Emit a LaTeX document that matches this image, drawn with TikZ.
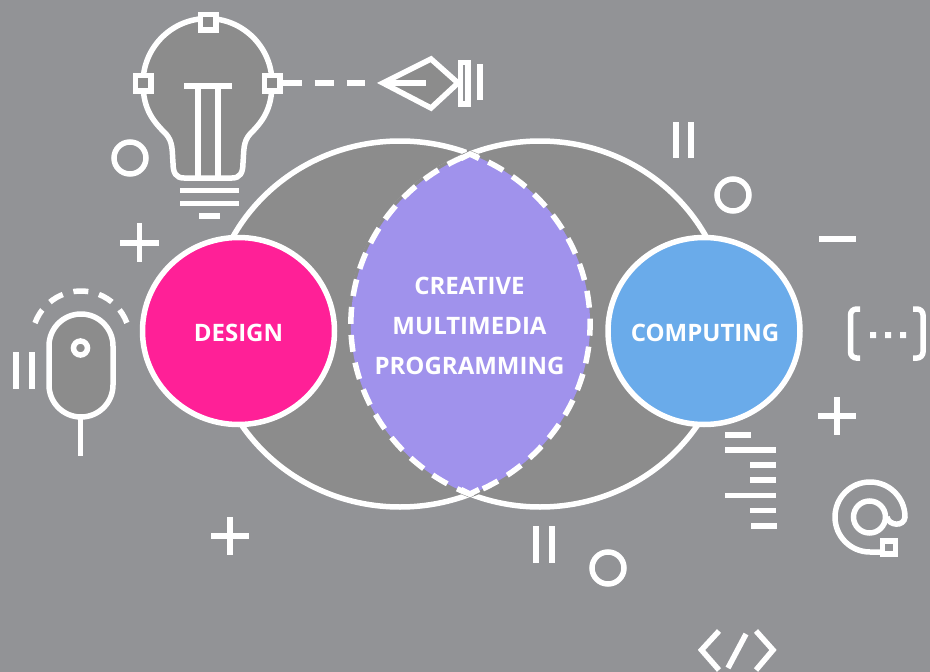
\documentclass[tikz,border=0pt]{standalone}
\usepackage{fontspec}
\usetikzlibrary{shapes.geometric}
\setmainfont{Open Sans}
\definecolor{bg}{HTML}{929396}
\definecolor{graybody}{HTML}{8C8C8C}
\definecolor{lens}{HTML}{A092EC}
\definecolor{pinkc}{HTML}{FF2097}
\definecolor{bluec}{HTML}{6AABEA}
\tikzset{
 ln/.style={draw=white,line width=5.5pt},
 hollow/.style={circle,draw=white,line width=5.5pt,inner sep=0pt,minimum size=#1},
 handle/.style={rectangle,draw=white,fill=graybody,line width=5.5pt,inner sep=0pt,minimum size=15.5pt},
 main/.style={ellipse,draw=white,line width=5.5pt,inner sep=0pt,minimum width=192pt,minimum height=187pt},
 lab/.style={text=white,font=\bfseries\fontsize{24pt}{26pt}\selectfont,inner sep=0pt}
}
\newcommand{\lenspath}{(470,154) arc [start angle=-68.4,end angle=68.4,x radius=190,y radius=183]
  arc [start angle=111.7,end angle=248.3,x radius=189,y radius=183] -- cycle}
\begin{document}
\begin{tikzpicture}[x=1pt,y=1pt,yscale=-1]
\useasboundingbox (0,0) rectangle (930,672);
\fill[bg] (0,0) rectangle (930,672);

% big ellipses
\filldraw[ln,fill=graybody] (400,324) ellipse [x radius=190,y radius=183];
\filldraw[ln,fill=graybody] (540,324) ellipse [x radius=189,y radius=183];
% lens
\path[draw=graybody,line width=6.5pt] \lenspath;
\path[fill=lens] \lenspath;
\path[draw=white,line width=5.5pt,dash pattern=on 17pt off 11pt,dash phase=8pt] \lenspath;
\draw[ln] (461,158.5) -- (470,154) -- (479,158.5);
\draw[ln] (461,489.5) -- (470,494) -- (479,489.5);
\node[lab] (t1) at (469.5,286) {CREATIVE};
\node[lab] (t2) at (469.5,326) {MULTIMEDIA};
\node[lab] (t3) at (469.5,366) {PROGRAMMING};

% main circles
\node[main,fill=pinkc] (design) at (238.5,331) {};
\node[main,fill=bluec] (computing) at (704,331) {};
\node[lab] (designlabel) at (238.5,332.5) {DESIGN};
\node[lab] (computinglabel) at (705,332.5) {COMPUTING};

% bulb
\filldraw[ln,fill=graybody] (143,83)
  arc [start angle=180,end angle=360,radius=64.5]
  .. controls (272,110) and (262,122) .. (250,134)
  .. controls (243,142) and (244,150) .. (243,163)
  .. controls (243,173) and (240,178) .. (232,178)
  -- (184,178) .. controls (176,178) and (173,173) .. (173,163)
  .. controls (172,150) and (173,142) .. (166,134)
  .. controls (154,122) and (143,110) .. (143,83) -- cycle;
\draw[ln] (184,86) -- (232,86);
\draw[ln] (198,86) -- (198,178);
\draw[ln] (218,86) -- (218,178);
\draw[ln] (180,190.5) -- (239,190.5);
\draw[ln] (180,203.5) -- (239,203.5);
\draw[ln] (199,216) -- (220,216);
\node[handle] (bulbT) at (208,22) {};
\node[handle] (bulbL) at (143,83) {};
\node[handle] (bulbR) at (272,83) {};
\node[hollow=32pt] (c1) at (130,158) {};

% pen
\coordinate (dashend) at (365,83);
\draw[ln,dash pattern=on 19pt off 13pt] (bulbR) -- (dashend);
\filldraw[ln,fill=graybody,line join=miter] (383,83) -- (431,59) -- (458,83) -- (431,108) -- cycle;
\draw[ln] (383,83) -- (426,83);
\draw[ln,fill=bg] (460.3,62.5) rectangle (468.2,104);
\draw[ln] (480,64) -- (480,100);

% plus signs and bars
\draw[ln] (120,243) -- (159,243) (139.5,223) -- (139.5,262);
\draw[ln] (211,536) -- (249,536) (230,517) -- (230,555);
\draw[ln] (818,416) -- (856,416) (837,397) -- (837,435);
\draw[ln] (819,239) -- (856,239);
\draw[ln] (676,122) -- (676,158) (691,122) -- (691,158);
\draw[ln] (536,526) -- (536,563) (552,526) -- (552,563);
\draw[ln] (16,352) -- (16,389) (32,352) -- (32,389);

% small circles
\node[hollow=32pt] (c2) at (733,195) {};
\node[hollow=32pt] (c3) at (608,568) {};

% mouse
\draw[ln,fill=graybody] (49,346) arc [start angle=180,end angle=360,radius=32]
  -- (113,385) arc [start angle=0,end angle=180,radius=32] -- cycle;
\node[hollow=14pt] (mdot) at (80.5,348) {};
\draw[ln] (80.5,418) -- (80.5,456);
\draw[ln,dash pattern=on 15pt off 11pt] (35,323) arc [start angle=200.3,end angle=339.7,radius=49];

% brackets
\draw[ln,rounded corners=6pt] (860,309) -- (850.5,309) -- (850.5,358) -- (860,358);
\draw[ln,rounded corners=6pt] (913,309) -- (923,309) -- (923,358) -- (913,358);
\fill[white] (870,332) rectangle (876,338) (885,332) rectangle (891,338) (900,332) rectangle (906,338);

% list lines
\draw[ln] (725,435) -- (751,435);
\draw[ln] (725,450) -- (776,450);
\draw[ln] (750,465) -- (776,465);
\draw[ln] (750,480) -- (776,480);
\draw[ln] (725,495.5) -- (776,495.5);
\draw[ln] (750,510.5) -- (776,510.5);
\draw[ln] (751,526) -- (777,526);

% at sign
\node[hollow=32pt] (atin) at (869.5,517) {};
\draw[ln] (887,517) .. controls (889,526) and (904,527) .. (905,517)
  arc [start angle=0,end angle=-180,radius=35]
  arc [start angle=180,end angle=90,radius=35] -- (881,552);
\node[handle,minimum size=13pt,fill=bg] (atbox) at (889,547.5) {};

% code tag
\draw[ln,line join=miter] (719,631) -- (701.5,650) -- (719,670);
\draw[ln,line join=miter] (756,631) -- (773,650) -- (756,670);
\draw[ln] (746,634) -- (728,668);
\end{tikzpicture}
\end{document}
